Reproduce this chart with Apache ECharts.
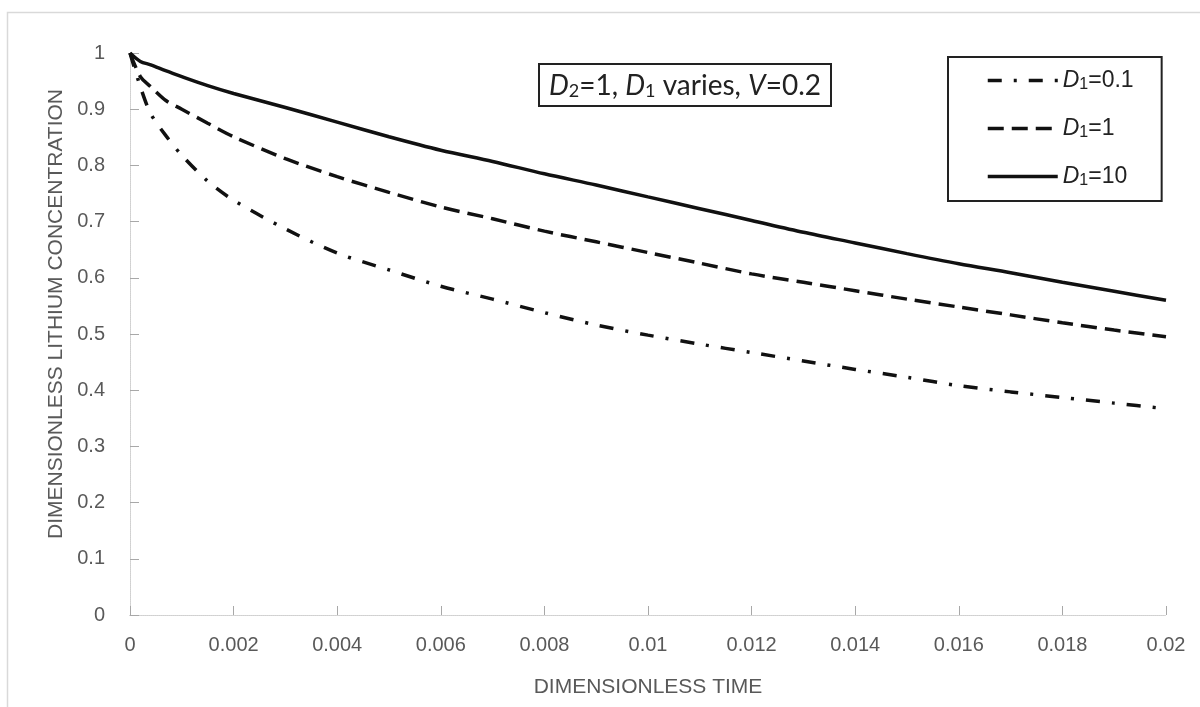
<!DOCTYPE html>
<html>
<head>
<meta charset="utf-8">
<script src="https://cdn.jsdelivr.net/npm/echarts@6/dist/echarts.min.js"></script>
<style>
  html, body { margin: 0; padding: 0; background: #fff; }
  #chart { width: 1200px; height: 707px; }
</style>
</head>
<body>
<div id="chart"></div>
<script>
// dimensionless time samples
var timeFine = [0, 0.0002, 0.0004, 0.0007, 0.001, 0.0015, 0.002, 0.003, 0.004, 0.005, 0.006, 0.007, 0.008, 0.009, 0.01,
                0.011, 0.012, 0.013, 0.014, 0.015, 0.016, 0.017, 0.018, 0.019, 0.02];

// D1 = 0.1 (dash-dot)
var concD01 = [1, 0.94, 0.892, 0.852, 0.818, 0.772, 0.738, 0.687, 0.644, 0.614, 0.585, 0.562, 0.538, 0.516, 0.498,
               0.482, 0.467, 0.452, 0.437, 0.423, 0.408, 0.397, 0.387, 0.377, 0.367];
// D1 = 1 (dashed)
var concD1 = [1, 0.958, 0.94, 0.915, 0.9, 0.875, 0.851, 0.812, 0.78, 0.752, 0.726, 0.705, 0.683, 0.664, 0.645,
              0.626, 0.607, 0.592, 0.577, 0.562, 0.548, 0.534, 0.52, 0.507, 0.495];
// D1 = 10 (solid)
var concD10 = [1, 0.985, 0.979, 0.968, 0.958, 0.942, 0.928, 0.903, 0.877, 0.851, 0.827, 0.807, 0.785, 0.765, 0.744,
               0.723, 0.702, 0.681, 0.662, 0.643, 0.625, 0.609, 0.592, 0.576, 0.56];

var seriesNames = ['D1=0.1', 'D1=1', 'D1=10'];
var legendValues = ['0.1', '1', '10'];

function pairs(xs, ys) {
    return xs.map(function (x, i) { return [x, ys[i]]; });
}

var chart = echarts.init(document.getElementById('chart'));

var labelColor = '#595959';
var axisGray = '#a8a8a8';
var font = 'Liberation Sans';
var dashTypes = [[14, 12, 3, 12], [16, 8], 'solid'];

var option = {
    backgroundColor: '#fff',
    animation: false,
    title: {
        text: '{i|D}{s|2}=1, {i|D}{s|1} varies, {i|V}=0.2',
        left: 539,
        top: 63,
        padding: [8, 10, 6, 10],
        borderColor: '#222',
        borderWidth: 2,
        textStyle: {
            fontFamily: 'Lato',
            fontSize: 28,
            fontWeight: 'normal',
            color: '#222',
            rich: {
                i: { fontFamily: 'Lato', fontSize: 28, fontStyle: 'italic', color: '#222' },
                s: { fontFamily: 'Lato', fontSize: 18, color: '#222', padding: [11, 0, 0, 0] }
            }
        }
    },
    legend: {
        orient: 'vertical',
        left: 948,
        top: 57,
        padding: [12, 28, 12, 38],
        itemGap: 24,
        itemWidth: 70,
        itemHeight: 14,
        borderColor: '#222',
        borderWidth: 2,
        itemStyle: { opacity: 0 },
        data: seriesNames.map(function (n, i) {
            return { name: n, lineStyle: { type: dashTypes[i], width: 3.5, color: '#111' } };
        }),
        formatter: function (name) {
            var k = seriesNames.indexOf(name);
            return '{i|D}{s|1}{n|=' + legendValues[k] + '}';
        },
        textStyle: {
            fontFamily: font,
            fontSize: 23,
            color: '#222',
            rich: {
                i: { fontFamily: font, fontSize: 23, fontStyle: 'italic', color: '#222' },
                s: { fontFamily: font, fontSize: 16, color: '#222', padding: [9, 0, 0, 0] },
                n: { fontFamily: font, fontSize: 23, color: '#222' }
            }
        }
    },
    grid: {
        left: 130,
        right: 34,
        top: 53,
        bottom: 92
    },
    xAxis: [{
        type: 'value',
        min: 0,
        max: 0.02,
        interval: 0.002,
        name: 'DIMENSIONLESS TIME',
        nameLocation: 'middle',
        nameGap: 62,
        nameTextStyle: { fontFamily: font, fontSize: 21, color: labelColor },
        axisLine: { lineStyle: { color: axisGray, type: 'dotted', width: 1 } },
        axisTick: { inside: true, length: 9, lineStyle: { color: axisGray } },
        axisLabel: { fontFamily: font, fontSize: 20, color: labelColor, margin: 20 },
        splitLine: { show: false }
    }, {
        type: 'value',
        position: 'top',
        min: 0,
        max: 0.02,
        axisLine: { show: true, lineStyle: { color: '#d6d6d6', type: 'dotted' } },
        axisTick: { show: false },
        axisLabel: { show: false },
        splitLine: { show: false }
    }],
    yAxis: [{
        type: 'value',
        min: 0,
        max: 1,
        interval: 0.1,
        name: 'DIMENSIONLESS LITHIUM CONCENTRATION',
        nameLocation: 'middle',
        nameGap: 62,
        nameTextStyle: { fontFamily: font, fontSize: 21, color: labelColor, padding: [0, 0, 0, 40] },
        axisLine: { show: true, lineStyle: { color: axisGray, type: 'dotted', width: 1 } },
        axisTick: { show: true, inside: true, length: 9, lineStyle: { color: axisGray } },
        axisLabel: { fontFamily: font, fontSize: 20, color: labelColor, margin: 25 },
        splitLine: { show: false }
    }, {
        type: 'value',
        position: 'right',
        min: 0,
        max: 1,
        axisLine: { show: true, lineStyle: { color: '#d6d6d6', type: 'dotted' } },
        axisTick: { show: false },
        axisLabel: { show: false },
        splitLine: { show: false }
    }],
    graphic: [{
        type: 'rect',
        shape: { x: 7.5, y: 12.5, width: 1200, height: 720 },
        style: { fill: 'none', stroke: '#d9d9d9', lineWidth: 1.5 },
        silent: true
    }],
    series: [{
        name: seriesNames[0],
        type: 'line',
        data: pairs(timeFine, concD01),
        showSymbol: false,
        symbol: 'none',
        smooth: 0.3,
        lineStyle: { color: '#111', width: 3.5, type: dashTypes[0] },
        itemStyle: { color: '#111' }
    }, {
        name: seriesNames[1],
        type: 'line',
        data: pairs(timeFine, concD1),
        showSymbol: false,
        symbol: 'none',
        smooth: 0.3,
        lineStyle: { color: '#111', width: 3.5, type: dashTypes[1] },
        itemStyle: { color: '#111' }
    }, {
        name: seriesNames[2],
        type: 'line',
        data: pairs(timeFine, concD10),
        showSymbol: false,
        symbol: 'none',
        smooth: 0.3,
        lineStyle: { color: '#111', width: 3.5, type: dashTypes[2] },
        itemStyle: { color: '#111' }
    }]
};

chart.setOption(option);
</script>
</body>
</html>
